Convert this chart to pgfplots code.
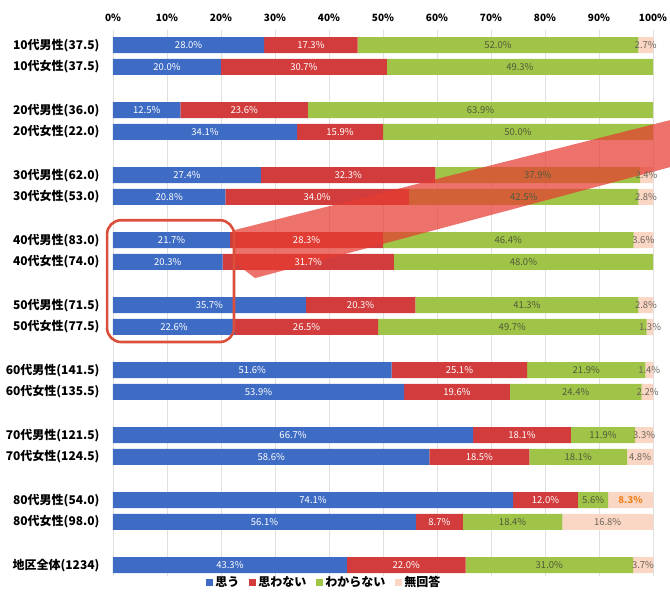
\documentclass[border=0pt]{standalone}
\usepackage{fontspec}
\setmainfont{Noto Sans CJK JP}
\usepackage{pgfplots}
\usepackage{pgfplotstable}
\pgfplotsset{compat=1.18}
\definecolor{cBlue}{RGB}{62,108,196}
\definecolor{cRed}{RGB}{210,60,60}
\definecolor{cGreen}{RGB}{160,196,72}
\definecolor{cNA}{RGB}{250,214,196}
\definecolor{cGrid}{RGB}{224,224,224}
\definecolor{cGtxt}{RGB}{80,90,60}
\definecolor{cNtxt}{RGB}{110,100,90}
\definecolor{cOrange}{RGB}{240,130,30}
\definecolor{cMark}{RGB}{218,78,58}
\definecolor{cBand}{RGB}{230,60,50}

\pgfplotstableread{
row blue red green na
0  28.0 17.3 52.0 2.7
1  20.0 30.7 49.3 0
3  12.5 23.6 63.9 0
4  34.1 15.9 50.0 0
6  27.4 32.3 37.9 2.4
7  20.8 34.0 42.5 2.8
9  21.7 28.3 46.4 3.6
10 20.3 31.7 48.0 0
12 35.7 20.3 41.3 2.8
13 22.6 26.5 49.7 1.3
15 51.6 25.1 21.9 1.4
16 53.9 19.6 24.4 2.2
18 66.7 18.1 11.9 3.3
19 58.6 18.5 18.1 4.8
21 74.1 12.0 5.6 8.3
22 56.1 8.7 18.4 16.8
24 43.3 22.0 31.0 3.7
}\datatable

\begin{document}
\begin{tikzpicture}
\useasboundingbox (-113pt,-17pt) rectangle (557pt,576pt);
\pgfplotsset{
  common/.style={
    at={(0,0)}, anchor=south west,
    scale only axis, width=540pt, height=546pt,
    xmin=0, xmax=100, ymin=-0.7, ymax=24.5, y dir=reverse,
  },
}
\begin{axis}[
  common,
  xbar stacked, bar width=16pt,
  axis line style={draw=none}, major tick length=0pt,
  xtick={0,10,...,100},
  xticklabel={\pgfmathprintnumber{\tick}\%},
  xticklabel pos=top,
  /pgf/number format/assume math mode=true,
  xticklabel style={font=\bfseries\fontsize{10}{12}\selectfont, yshift=5pt},
  xmajorgrids, major grid style={draw=cGrid, line width=0.6pt},
  ytick={0,1,3,4,6,7,9,10,12,13,15,16,18,19,21,22,24},
  yticklabels={10代男性(37.5),10代女性(37.5),20代男性(36.0),20代女性(22.0),30代男性(62.0),30代女性(53.0),40代男性(83.0),40代女性(74.0),50代男性(71.5),50代女性(77.5),60代男性(141.5),60代女性(135.5),70代男性(121.5),70代女性(124.5),80代男性(54.0),80代女性(98.0),地区全体(1234)},
  yticklabel style={font=\bfseries\fontsize{12}{14}\selectfont, xshift=-10pt},
  legend style={at={(0.167,0)}, anchor=north west, yshift=4pt, draw=none, fill=none,
    font=\bfseries\fontsize{12}{14}\selectfont, legend columns=4,
    /tikz/every even column/.append style={column sep=8pt}},
  legend image code/.code={\fill[#1] (0pt,-3.5pt) rectangle (7pt,3.5pt);},
]
\addplot[fill=cBlue, draw=none] table[x=blue, y=row] {\datatable};
\addplot[fill=cRed, draw=none] table[x=red, y=row] {\datatable};
\addplot[fill=cGreen, draw=none] table[x=green, y=row] {\datatable};
\addplot[fill=cNA, draw=none] table[x=na, y=row] {\datatable};
\legend{思う,思わない,わからない,無回答}
\end{axis}
\begin{axis}[
  common, hide axis, clip=false,
  nodes near coords, point meta=explicit symbolic,
  nodes near coords style={anchor=center, font=\fontsize{9.5}{10}\selectfont},
]
% labels of 思う
\addplot[draw=none, nodes near coords style={text=white}] coordinates {
(14.0,0)[28.0\%] (10,1)[20.0\%] (6.25,3)[12.5\%] (17.05,4)[34.1\%] (13.7,6)[27.4\%] (10.4,7)[20.8\%] (10.85,9)[21.7\%] (10.15,10)[20.3\%] (17.85,12)[35.7\%] (11.3,13)[22.6\%] (25.8,15)[51.6\%] (26.95,16)[53.9\%] (33.35,18)[66.7\%] (29.3,19)[58.6\%] (37.05,21)[74.1\%] (28.05,22)[56.1\%] (21.65,24)[43.3\%]
};
% labels of 思わない
\addplot[draw=none, nodes near coords style={text=white}] coordinates {
(36.65,0)[17.3\%] (35.35,1)[30.7\%] (24.3,3)[23.6\%] (42.05,4)[15.9\%] (43.55,6)[32.3\%] (37.8,7)[34.0\%] (35.85,9)[28.3\%] (36.15,10)[31.7\%] (45.85,12)[20.3\%] (35.85,13)[26.5\%] (64.15,15)[25.1\%] (63.7,16)[19.6\%] (75.75,18)[18.1\%] (67.85,19)[18.5\%] (80.1,21)[12.0\%] (60.45,22)[8.7\%] (54.3,24)[22.0\%]
};
% labels of わからない
\addplot[draw=none, nodes near coords style={text=cGtxt}] coordinates {
(71.3,0)[52.0\%] (75.35,1)[49.3\%] (68.05,3)[63.9\%] (75,4)[50.0\%] (78.65,6)[37.9\%] (76.05,7)[42.5\%] (73.2,9)[46.4\%] (76,10)[48.0\%] (76.65,12)[41.3\%] (73.95,13)[49.7\%] (87.65,15)[21.9\%] (85.7,16)[24.4\%] (90.75,18)[11.9\%] (86.15,19)[18.1\%] (88.9,21)[5.6\%] (74.0,22)[18.4\%] (80.8,24)[31.0\%]
};
% labels of 無回答
\addplot[draw=none, nodes near coords style={text=cNtxt}] coordinates {
(98.65,0)[2.7\%] (98.8,6)[2.4\%] (98.7,7)[2.8\%] (98.2,9)[3.6\%] (98.7,12)[2.8\%] (99.45,13)[1.3\%] (99.3,15)[1.4\%] (99.0,16)[2.2\%] (98.35,18)[3.3\%] (97.6,19)[4.8\%] (91.6,22)[16.8\%] (98.15,24)[3.7\%]
};
\addplot[draw=none, nodes near coords style={text=cOrange, font=\bfseries\fontsize{9.5}{10}\selectfont}] coordinates {
(95.85,21)[8.3\%]
};
% annotation band and frame
\fill[cBand, opacity=0.72] (axis cs:22.4,8.54) -- (axis cs:103.15,3.46) -- (axis cs:103.15,5.63) -- (axis cs:26.3,10.75) -- (axis cs:22.4,10.01) -- cycle;
\draw[cMark, line width=2.6pt, rounded corners=14pt] (axis cs:-1.1,8.08) rectangle (axis cs:22.4,13.7);
\end{axis}
\end{tikzpicture}
\end{document}
